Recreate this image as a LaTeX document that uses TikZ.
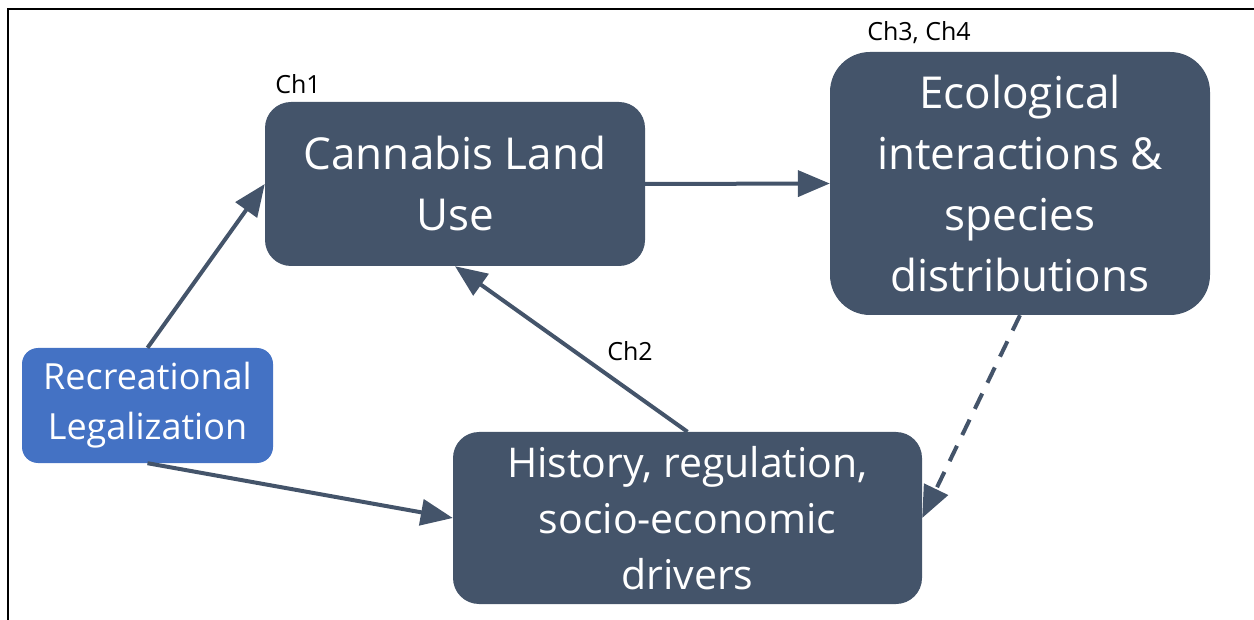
\documentclass[tikz,border=0pt]{standalone}
\usepackage{fontspec}
\setmainfont{Open Sans}
\usetikzlibrary{arrows.meta}
\definecolor{slate}{HTML}{44546A}
\definecolor{legblue}{HTML}{4472C4}
\tikzset{
  box/.style={fill=slate, text=white, align=center, inner sep=0pt},
  bigtext/.style={font=\fontsize{44}{61}\selectfont},
  conn/.style={draw=slate, line width=4pt, -{Triangle[length=32pt,width=26pt]}, shorten >=0pt},
  lbl/.style={font=\fontsize{25}{30}\selectfont, inner sep=0pt, text=black}
}
\begin{document}
\begin{tikzpicture}[x=1pt,y=-1pt]
\useasboundingbox (0,0) rectangle (1254,620);
\draw[black, line width=1.5pt] (8,620) -- (8,9) -- (1254,9);
\node[box, bigtext, rounded corners=26pt, minimum width=380pt, minimum height=164pt] (cann) at (455,184) {Cannabis Land\\Use};
\node[box, bigtext, rounded corners=40pt, minimum width=380pt, minimum height=263pt] (eco) at (1020,183.5) {Ecological\\interactions \&\\species\\distributions};
\node[box, fill=legblue, font=\fontsize{36}{50}\selectfont, rounded corners=16pt, minimum width=251pt, minimum height=115pt] (rec) at (147.5,405.5) {Recreational\\Legalization};
\node[box, font=\fontsize{41}{56}\selectfont, rounded corners=26pt, minimum width=469pt, minimum height=172pt] (hist) at (687.5,518) {History, regulation,\\socio-economic\\drivers};
\node[lbl] (l1) at (298,84) {Ch1};
\node[lbl] (l2) at (630,351) {Ch2};
\node[lbl] (l34) at (919,33) {Ch3, Ch4};
\draw[conn] (rec.north) -- (cann.west);
\draw[conn] (rec.south) -- (hist.west);
\draw[conn] (cann.east) -- (eco.west);
\draw[conn] (hist.north) -- (cann.south);
\draw[conn, dash pattern=on 17pt off 12pt] (eco.south) -- (hist.east);
\end{tikzpicture}
\end{document}
